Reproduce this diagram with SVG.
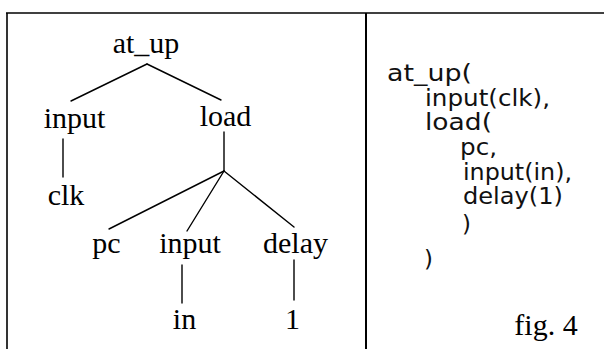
<svg xmlns="http://www.w3.org/2000/svg" width="604" height="349" viewBox="0 0 604 349">
<style>
.t{font-family:"Liberation Serif","Times New Roman",serif;font-size:30px;fill:#000;text-anchor:middle}
.c{font-family:"DejaVu Sans","Liberation Sans",sans-serif;font-size:23px;fill:#111}
.e{stroke:#000;stroke-width:1.4;fill:none;stroke-linecap:round}
.f{stroke:#000;fill:none}
</style>
<rect width="604" height="349" fill="#fff"/>
<g id="frame">
<line class="f" x1="6" y1="13" x2="604" y2="13" stroke-width="1.6"/>
<line class="f" x1="7" y1="13" x2="7" y2="349" stroke-width="1.6"/>
<line class="f" x1="366" y1="13" x2="366" y2="349" stroke-width="2"/>
</g>
<g id="connectors">
<line class="e" x1="147" y1="64" x2="71" y2="101"/>
<line class="e" x1="147" y1="64" x2="221" y2="100"/>
<line class="e" x1="63" y1="139" x2="63" y2="177"/>
<line class="e" x1="224" y1="132" x2="224" y2="171"/>
<line class="e" x1="224" y1="171" x2="109" y2="229"/>
<line class="e" x1="224" y1="171" x2="187" y2="231"/>
<line class="e" x1="224" y1="171" x2="294" y2="227"/>
<line class="e" x1="182" y1="265" x2="182" y2="303"/>
<line class="e" x1="294" y1="260" x2="294" y2="300"/>
</g>
<g id="n-at_up"><text class="t" x="146" y="53">at_up</text></g>
<g id="n-input1"><text class="t" x="74.5" y="128">input</text></g>
<g id="n-load"><text class="t" x="225.5" y="126">load</text></g>
<g id="n-clk"><text class="t" x="66" y="205">clk</text></g>
<g id="n-pc"><text class="t" x="106.5" y="253">pc</text></g>
<g id="n-input2"><text class="t" x="190" y="253">input</text></g>
<g id="n-delay"><text class="t" x="295.5" y="253">delay</text></g>
<g id="n-in"><text class="t" x="184.5" y="329">in</text></g>
<g id="n-1"><text class="t" x="292.5" y="329">1</text></g>
<g id="code">
<text class="c" x="387" y="81" textLength="85" lengthAdjust="spacingAndGlyphs">at_up(</text>
<text class="c" x="425" y="106" textLength="125" lengthAdjust="spacingAndGlyphs">input(clk),</text>
<text class="c" x="425" y="130" textLength="67" lengthAdjust="spacingAndGlyphs">load(</text>
<text class="c" x="460" y="155" textLength="37" lengthAdjust="spacingAndGlyphs">pc,</text>
<text class="c" x="463" y="180" textLength="109" lengthAdjust="spacingAndGlyphs">input(in),</text>
<text class="c" x="463" y="204" textLength="100" lengthAdjust="spacingAndGlyphs">delay(1)</text>
<text class="c" x="462" y="232">)</text>
<text class="c" x="424" y="267">)</text>
</g>
<g id="caption"><text class="t" x="546" y="335">fig. 4</text></g>
</svg>
